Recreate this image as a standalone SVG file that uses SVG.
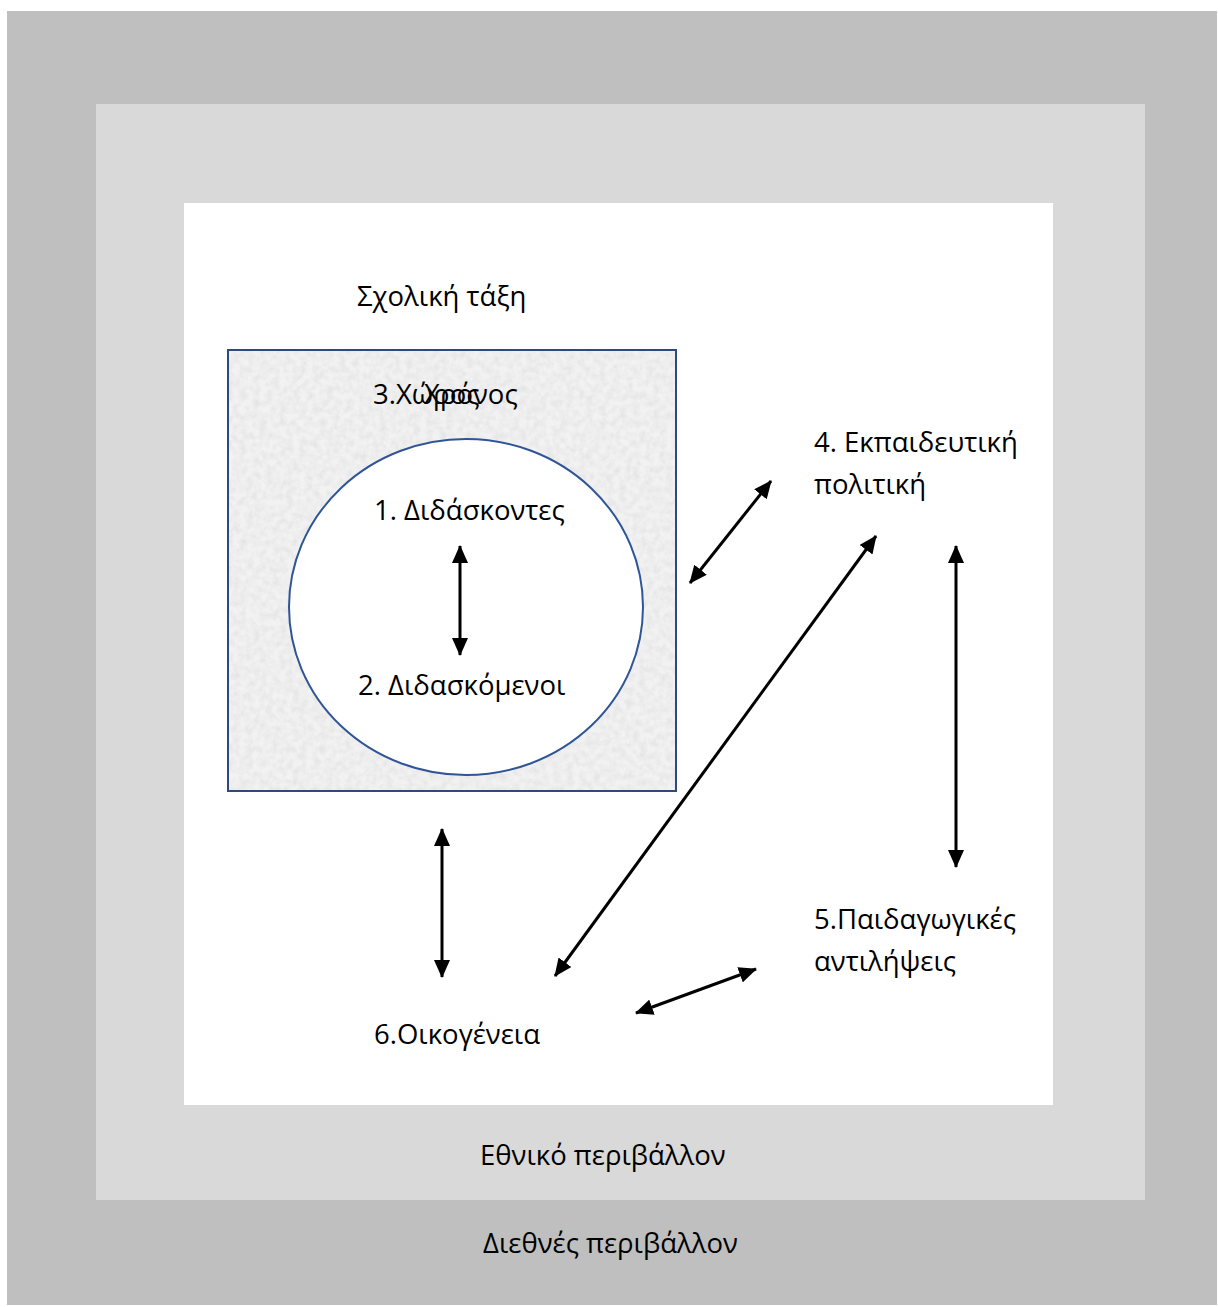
<svg xmlns="http://www.w3.org/2000/svg" width="1218" height="1307" viewBox="0 0 1218 1307">
<style>
  text { font-family: "Open Sans", "Noto Sans", "DejaVu Sans", sans-serif; font-size: 27.5px; fill: #000; }
  .conn { stroke: #000; stroke-width: 3; fill: none; marker-start: url(#ah); marker-end: url(#ah); }
</style>
<defs>
  <marker id="ah" markerUnits="userSpaceOnUse" markerWidth="18" markerHeight="16" refX="17" refY="8" orient="auto-start-reverse">
    <path d="M0,0 L18,8 L0,16 z" fill="#000"/>
  </marker>
  <filter id="grain" x="0" y="0" width="100%" height="100%">
    <feTurbulence type="fractalNoise" baseFrequency="0.15" numOctaves="3" seed="4" result="n"/>
    <feColorMatrix in="n" type="matrix" values="0 0 0 0 0.75  0 0 0 0 0.75  0 0 0 0 0.75  0 0 0 -1.4 0.95" result="g"/>
    <feComposite in="g" in2="SourceGraphic" operator="in"/>
  </filter>
</defs>
<rect x="0" y="0" width="1218" height="1307" fill="#ffffff"/>
<g id="international">
  <rect x="7" y="11" width="1210" height="1294" fill="#bfbfbf"/>
  <text x="483" y="1253">Διεθνές περιβάλλον</text>
</g>
<g id="national">
  <rect x="96" y="104" width="1049" height="1096" fill="#d9d9d9"/>
  <text x="480" y="1165">Εθνικό περιβάλλον</text>
</g>
<g id="classroom">
  <rect x="184" y="203" width="869" height="902" fill="#ffffff"/>
  <text x="357" y="306">Σχολική τάξη</text>
</g>
<g id="space">
  <rect x="228" y="350" width="448" height="441" fill="#f2f2f2"/>
  <rect x="228" y="350" width="448" height="441" fill="#ffffff" filter="url(#grain)"/>
  <rect x="228" y="350" width="448" height="441" fill="none" stroke="#2f4a7a" stroke-width="2"/>
  <text x="373" y="404">3.Χώρος</text>
  <text x="424" y="404">Χρόνος</text>
</g>
<g id="circle">
  <ellipse cx="466" cy="607" rx="177" ry="168" fill="#ffffff" stroke="#2f5597" stroke-width="2"/>
</g>
<g id="teachers">
  <text x="374" y="520">1. Διδάσκοντες</text>
</g>
<g id="students">
  <text x="358" y="695">2. Διδασκόμενοι</text>
</g>
<g id="policy">
  <text x="814" y="452">4. Εκπαιδευτική</text>
  <text x="814" y="494">πολιτική</text>
</g>
<g id="pedagogy">
  <text x="814" y="929">5.Παιδαγωγικές</text>
  <text x="814" y="971">αντιλήψεις</text>
</g>
<g id="family">
  <text x="374" y="1044">6.Οικογένεια</text>
</g>
<g id="connectors">
  <line class="conn" x1="460" y1="546" x2="460" y2="655"/>
  <line class="conn" x1="690" y1="583" x2="771" y2="481"/>
  <line class="conn" x1="555" y1="976" x2="876" y2="536"/>
  <line class="conn" x1="956" y1="546" x2="956" y2="867"/>
  <line class="conn" x1="442" y1="829" x2="442" y2="977"/>
  <line class="conn" x1="636" y1="1013" x2="756" y2="969"/>
</g>
</svg>
